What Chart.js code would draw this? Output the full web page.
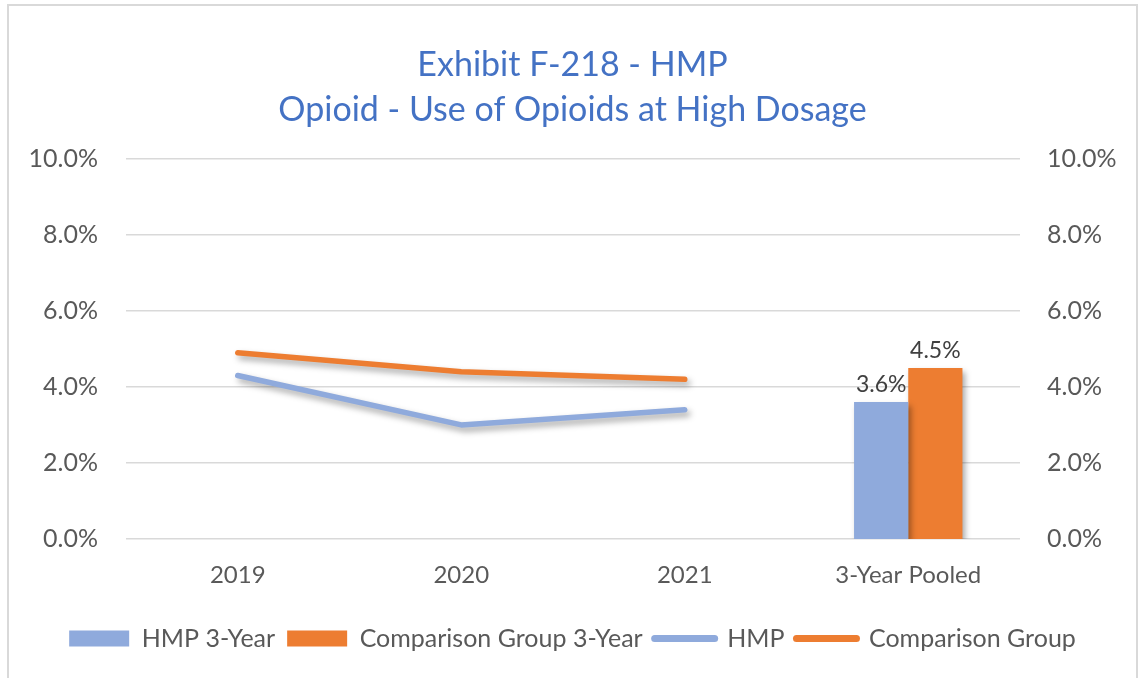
<!DOCTYPE html>
<html>
<head>
<meta charset="utf-8">
<script src="https://cdn.jsdelivr.net/npm/chart.js@4/dist/chart.umd.min.js"></script>
<style>
  body { margin: 0; background: #fff; }
  #wrap {
    position: absolute; left: 7px; top: 4px; width: 1127px; height: 672px;
    border: 2px solid #d9d9d9; border-bottom: none; background: #fff;
  }
</style>
</head>
<body>
<div id="wrap"><canvas id="chart"></canvas></div>
<script>
// chart data
const categories = ['2019', '2020', '2021', '3-Year Pooled'];
const hmpPooled = [null, null, null, 3.6];
const compPooled = [null, null, null, 4.5];
const hmpYearly = [4.3, 3.0, 3.4, null];
const compYearly = [4.9, 4.4, 4.2, null];
const titleLines = ['Exhibit F-218 - HMP', 'Opioid - Use of Opioids at High Dosage'];

const BLUE = '#8FAADC';
const ORANGE = '#ED7D31';
const TEXT = '#595959';
const FONT = 'Lato, "Open Sans", sans-serif';

// soft drop shadow under every series
const shadowPlugin = {
  id: 'shadow',
  beforeDatasetDraw(chart) {
    const ctx = chart.ctx;
    ctx.save();
    ctx.shadowColor = 'rgba(0,0,0,0.35)';
    ctx.shadowBlur = 6;
    ctx.shadowOffsetX = 3;
    ctx.shadowOffsetY = 4;
  },
  afterDatasetDraw(chart) {
    chart.ctx.restore();
  }
};

// value labels above the pooled bars
const barLabels = {
  id: 'barLabels',
  afterDatasetsDraw(chart) {
    const ctx = chart.ctx;
    ctx.save();
    ctx.font = '23px ' + FONT;
    ctx.fillStyle = '#404040';
    ctx.textAlign = 'center';
    ctx.textBaseline = 'bottom';
    chart.data.datasets.forEach((ds, i) => {
      if (ds.type !== 'bar') return;
      chart.getDatasetMeta(i).data.forEach((el, j) => {
        const v = ds.data[j];
        if (v == null) return;
        ctx.fillText(v.toFixed(1) + '%', el.x, el.y - 6);
      });
    });
    ctx.restore();
  }
};

new Chart(document.getElementById('chart'), {
  data: {
    labels: categories,
    datasets: [
      { type: 'bar', label: 'HMP 3-Year', data: hmpPooled, backgroundColor: BLUE, yAxisID: 'y1',
        categoryPercentage: 0.485, barPercentage: 1.0, order: 2 },
      { type: 'bar', label: 'Comparison Group 3-Year', data: compPooled, backgroundColor: ORANGE, yAxisID: 'y1',
        categoryPercentage: 0.485, barPercentage: 1.0, order: 2 },
      { type: 'line', label: 'HMP', data: hmpYearly, borderColor: BLUE, backgroundColor: BLUE, borderWidth: 5.5,
        pointRadius: 0, borderCapStyle: 'round', borderJoinStyle: 'round', yAxisID: 'y', order: 1 },
      { type: 'line', label: 'Comparison Group', data: compYearly, borderColor: ORANGE, backgroundColor: ORANGE, borderWidth: 5.5,
        pointRadius: 0, borderCapStyle: 'round', borderJoinStyle: 'round', yAxisID: 'y', order: 1 }
    ]
  },
  options: {
    responsive: true,
    maintainAspectRatio: false,
    animation: false,
    layout: { padding: { left: 0, right: 0, top: 0, bottom: 17 } },
    plugins: {
      title: {
        display: true,
        text: titleLines,
        color: '#4472C4',
        font: { family: FONT, size: 34, weight: 'normal', lineHeight: 1.32 },
        padding: { top: 37, bottom: 26 }
      },
      legend: {
        position: 'bottom',
        labels: {
          usePointStyle: true,
          pointStyleWidth: 60,
          boxHeight: 16,
          padding: 12,
          color: TEXT,
          font: { family: FONT, size: 25 },
          generateLabels(chart) {
            return chart.data.datasets.map((ds, i) => ({
              text: ds.label,
              fillStyle: ds.backgroundColor,
              strokeStyle: ds.borderColor || ds.backgroundColor,
              lineWidth: ds.type === 'line' ? 7 : 0,
              lineCap: 'round',
              pointStyle: ds.type === 'line' ? 'line' : 'rect',
              fontColor: TEXT,
              datasetIndex: i,
              hidden: false
            }));
          }
        }
      },
      tooltip: { enabled: false }
    },
    scales: {
      x: {
        grid: { display: false },
        border: { display: false },
        ticks: { color: TEXT, font: { family: FONT, size: 24 }, padding: 14 },
        afterFit(scale) { scale.height = 75; }
      },
      y: {
        position: 'left',
        min: 0, max: 10,
        grid: { color: '#d9d9d9', lineWidth: 1.5, drawTicks: false },
        border: { display: false },
        ticks: { stepSize: 2, color: TEXT, font: { family: FONT, size: 25 }, padding: 28,
          callback: v => v.toFixed(1) + '%' },
        afterFit(scale) { scale.width = 117; }
      },
      y1: {
        position: 'right',
        min: 0, max: 10,
        grid: { display: false, drawTicks: false },
        border: { display: false },
        ticks: { stepSize: 2, color: TEXT, font: { family: FONT, size: 25 }, padding: 27,
          callback: v => v.toFixed(1) + '%' },
        afterFit(scale) { scale.width = 116; }
      }
    }
  },
  plugins: [shadowPlugin, barLabels]
});
</script>
</body>
</html>
